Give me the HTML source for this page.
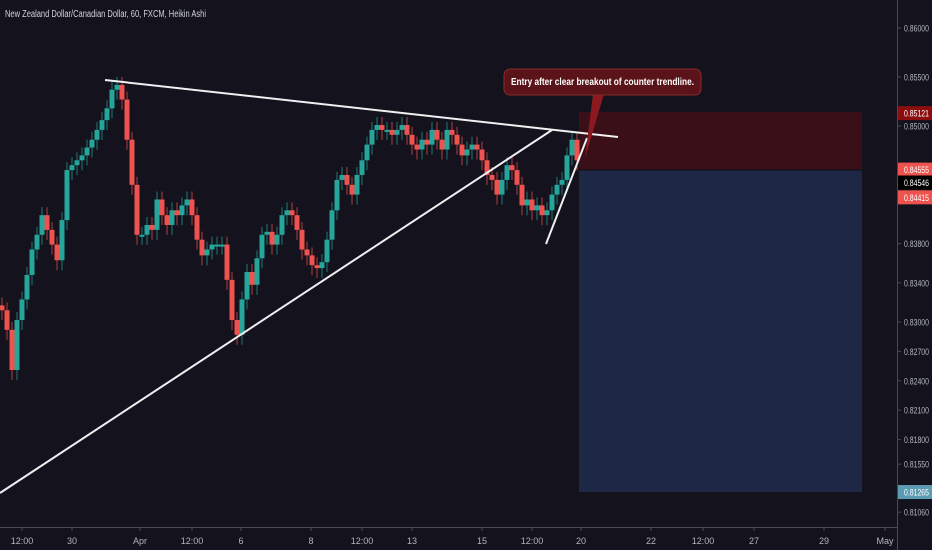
<!DOCTYPE html>
<html><head><meta charset="utf-8"><style>
html,body{margin:0;padding:0;background:#13121d;}
svg{display:block;font-family:"Liberation Sans",sans-serif;}
</style></head><body>
<svg width="932" height="550" id="chart">
<rect width="932" height="550" fill="#13121d"/>
<g id="zones">
<rect x="579" y="112" width="283" height="58" fill="#3a0f18"/>
<rect x="579" y="170" width="283" height="322" fill="#1e2745"/>
<line x1="579" y1="170" x2="862" y2="170" stroke="#0c0c14" stroke-width="1"/>
</g>
<g id="candles"></g>
<g id="lines">
<line x1="105" y1="80" x2="618" y2="137" stroke="#f0f0f0" stroke-width="2"/>
<line x1="0" y1="493" x2="552" y2="130" stroke="#f0f0f0" stroke-width="2"/>
<line x1="546" y1="244" x2="587" y2="138" stroke="#f0f0f0" stroke-width="2"/>
</g>
<g>
<polygon points="593,94 604,94 585,158" fill="#8a1a1f"/>
<rect x="504" y="69" width="197" height="26" rx="6" fill="#5a1419" stroke="#8a2a2a"/>
<text x="511" y="85" fill="#ffffff" font-size="10" font-weight="bold" textLength="183" lengthAdjust="spacingAndGlyphs">Entry after clear breakout of counter trendline.</text>
</g>
<text x="5" y="17" fill="#d1d4dc" font-size="10" textLength="201" lengthAdjust="spacingAndGlyphs">New Zealand Dollar/Canadian Dollar, 60, FXCM, Heikin Ashi</text>
<line x1="897.5" y1="0" x2="897.5" y2="550" stroke="#4a4a55"/>
<line x1="0" y1="527.5" x2="897" y2="527.5" stroke="#4a4a55"/>
<g id="yaxis"></g>
<g id="xaxis"></g>
<g id="badges"></g>
</svg>
<script>
const closes=[0.8312,0.8292,0.8251,0.8302,0.8323,0.8348,0.8374,0.8389,0.8409,0.8394,0.8379,0.8363,0.8404,0.8455,0.8460,0.8465,0.8470,0.8478,0.8486,0.8496,0.8506,0.8518,0.8537,0.8542,0.8527,0.8486,0.8440,0.8389,0.8389,0.8399,0.8394,0.8425,0.8409,0.8399,0.8414,0.8409,0.8419,0.8425,0.8409,0.8384,0.8368,0.8374,0.8379,0.8379,0.8379,0.8343,0.8302,0.8287,0.8323,0.8351,0.8338,0.8365,0.8389,0.8392,0.8379,0.8389,0.8409,0.8414,0.8409,0.8394,0.8374,0.8368,0.8358,0.8355,0.8361,0.8384,0.8414,0.8445,0.8450,0.8440,0.8430,0.8450,0.8465,0.8481,0.8496,0.8501,0.8496,0.8496,0.8491,0.8496,0.8501,0.8491,0.8481,0.8476,0.8486,0.8481,0.8496,0.8486,0.8476,0.8496,0.8491,0.8481,0.8470,0.8476,0.8481,0.8476,0.8465,0.8450,0.8445,0.8430,0.8445,0.8460,0.8455,0.8440,0.8419,0.8425,0.8414,0.8419,0.8409,0.8414,0.8430,0.8440,0.8445,0.8470,0.8486,0.8465];
const yTicks=[0.86000,0.85500,0.85000,0.83800,0.83400,0.83000,0.82700,0.82400,0.82100,0.81800,0.81550,0.81060];
const xLabels=["12:00","30","Apr","12:00","6","8","12:00","13","15","12:00","20","22","12:00","27","29","May"];
const xLabelPos=[22,72,140,192,241,311,362,412,482,532,581,651,703,754,824,885];
const badgeValues=[0.85121,0.84555,0.84546,0.84415,0.81265];
const badgeColors=["#8b0d0d","#ef5350","#000000","#ef5350","#5b9bb3"];
const badgeNudge=[-1,0,12,14,0];
const NS="http://www.w3.org/2000/svg";
function yScale(p){return 126+(0.85-p)*9800;}
function xScale(i){return i*5+2;}
function mk(tag,attrs,parent){const e=document.createElementNS(NS,tag);for(const k in attrs)e.setAttribute(k,attrs[k]);parent.appendChild(e);return e;}
const cg=document.getElementById('candles');
for(let i=0;i<closes.length;i++){
  const o=i>0?closes[i-1]:closes[0]+0.0005;const c=closes[i];
  const up=c>=o;const col=up?"#26a69a":"#ef5350";
  const y1=yScale(Math.max(o,c)),y2=yScale(Math.min(o,c));
  const x=xScale(i);
  const w=mk('line',{x1:x,x2:x,y1:y1-8,y2:y2+10,stroke:col,'stroke-opacity':0.6,'stroke-width':1.2},cg);
  
  
  const b=mk('rect',{x:x-2.5,y:y1,width:5,height:Math.max(2,y2-y1),fill:col},cg);
  
  
}
const ya=document.getElementById('yaxis');
yTicks.forEach(t=>{const y=yScale(t);
  mk('line',{x1:897,x2:901,y1:y,y2:y,stroke:'#4a4a55'},ya);
  const tx=mk('text',{x:904,y:y+3.5,fill:'#b2b5be','font-size':9,textLength:25,lengthAdjust:'spacingAndGlyphs'},ya);tx.textContent=t.toFixed(5);
  
  
});
const xa=document.getElementById('xaxis');
xLabels.forEach((l,i)=>{const x=xLabelPos[i];
  mk('line',{x1:x,x2:x,y1:527,y2:531,stroke:'#4a4a55'},xa);
  const tx=mk('text',{x:x,y:544,fill:'#b2b5be','font-size':9,'text-anchor':'middle'},xa);tx.textContent=l;
  
  
});
const bg=document.getElementById('badges');
badgeValues.forEach((v,i)=>{const y=yScale(v)+badgeNudge[i];
  const r=mk('rect',{x:898,y:y-7,width:34,height:14,fill:badgeColors[i]},bg);
  
  
  const tx=mk('text',{x:904,y:y+3.5,fill:'#ffffff','font-size':9,textLength:25,lengthAdjust:'spacingAndGlyphs'},bg);tx.textContent=v.toFixed(5);
  
  
});
</script>
</body></html>
